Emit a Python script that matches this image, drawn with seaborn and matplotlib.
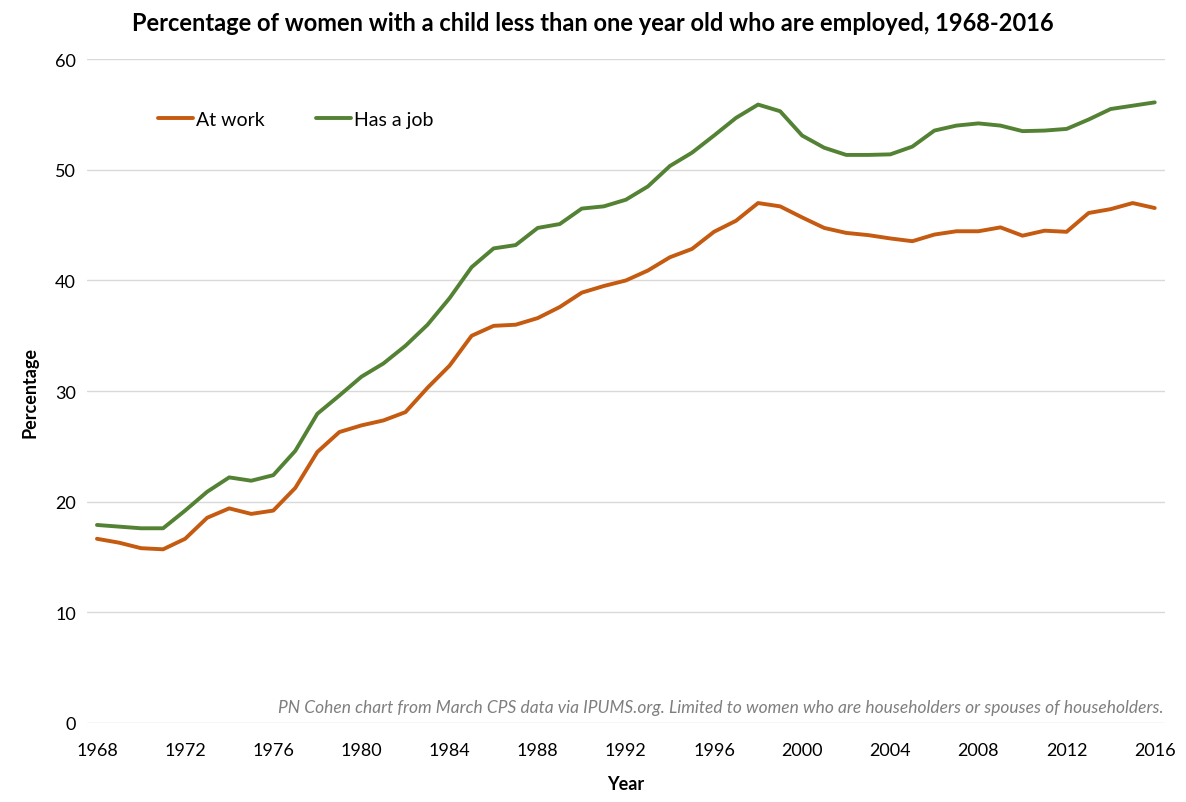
import pandas as pd
import matplotlib.pyplot as plt
import seaborn as sns

# data
years = list(range(1968, 2017))

at_work = [16.65, 16.3, 15.8, 15.7, 16.65, 18.55, 19.4, 18.9, 19.2, 21.25,
           24.5, 26.3, 26.9, 27.35, 28.1, 30.3, 32.3, 35.0, 35.9, 36.0,
           36.6, 37.6, 38.9, 39.5, 40.0, 40.9, 42.1, 42.85, 44.4, 45.4,
           47.0, 46.7, 45.7, 44.75, 44.3, 44.1, 43.8, 43.55, 44.15, 44.45,
           44.45, 44.8, 44.05, 44.5, 44.4, 46.1, 46.45, 47.0, 46.55]

has_job = [17.9, 17.75, 17.6, 17.6, 19.2, 20.9, 22.2, 21.9, 22.4, 24.6,
           27.95, 29.6, 31.3, 32.5, 34.1, 36.0, 38.4, 41.2, 42.9, 43.2,
           44.75, 45.1, 46.5, 46.7, 47.3, 48.5, 50.35, 51.55, 53.1, 54.7,
           55.9, 55.3, 53.1, 52.0, 51.35, 51.35, 51.4, 52.1, 53.55, 54.0,
           54.2, 54.0, 53.5, 53.55, 53.7, 54.55, 55.5, 55.8, 56.1]

series_names = ["At work", "Has a job"]
x_ticks = list(range(1968, 2017, 4))
y_ticks = [0, 10, 20, 30, 40, 50, 60]

df = pd.DataFrame({
    "Year": years * 2,
    "Percentage": at_work + has_job,
    "Series": [series_names[0]] * len(years) + [series_names[1]] * len(years),
})

sns.set_theme(style="white")
plt.rcParams['font.family'] = ['Lato', 'DejaVu Sans']
plt.rcParams['text.color'] = 'black'

fig = plt.figure(figsize=(11.86, 8.03), dpi=100)
ax = fig.add_axes([0.0734, 0.0984, 0.9086, 0.8266])

sns.lineplot(data=df, x="Year", y="Percentage", hue="Series",
             palette=["#C55A11", "#548235"], linewidth=2.8, ax=ax)

ax.set_xlim(1967.55, 2016.45)
ax.set_ylim(0, 60)
ax.set_xticks(x_ticks)
ax.set_yticks(y_ticks)
ax.tick_params(axis='both', length=0, labelsize=13, colors='black')
ax.tick_params(axis='x', pad=14)
ax.tick_params(axis='y', pad=8)
ax.grid(axis='y', color='#D9D9D9', linewidth=1)
ax.set_axisbelow(True)
for s in ax.spines.values():
    s.set_visible(False)

ax.set_xlabel("Year", fontsize=13, fontweight='bold', labelpad=12, color='black')
ax.set_ylabel("Percentage", fontsize=13, fontweight='bold', labelpad=12, color='black')

fig.suptitle("Percentage of women with a child less than one year old who are employed, 1968-2016",
             fontsize=17, fontweight='bold', x=0.5, y=0.985, color='black')

leg = ax.legend(loc='upper left', bbox_to_anchor=(0.05, 0.948), ncol=2, frameon=False,
                fontsize=14, handlelength=1.8, handletextpad=0.15, columnspacing=2.6)
for t in leg.get_texts():
    t.set_color('black')

ax.text(0.9995, 0.012, "PN Cohen chart from March CPS data via IPUMS.org. Limited to women who are householders or spouses of householders.",
        transform=ax.transAxes, ha='right', va='bottom', fontsize=12.5,
        style='italic', color='#7F7F7F')

fig.savefig("out.png", dpi=100)
